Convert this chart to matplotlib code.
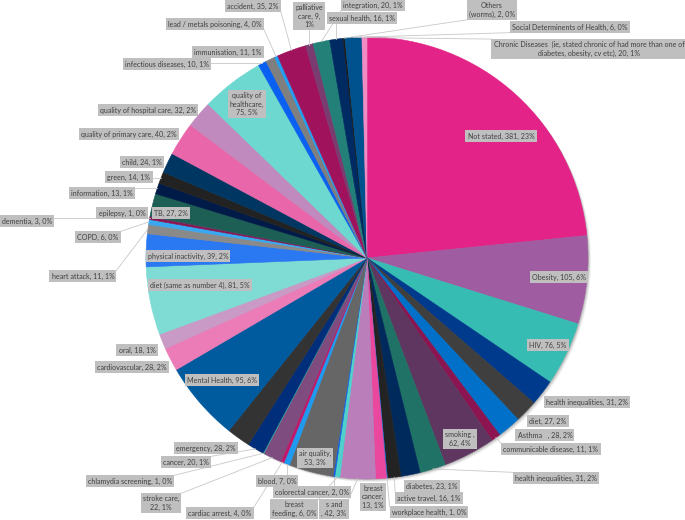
import matplotlib
matplotlib.use("Agg")
import matplotlib.pyplot as plt
from matplotlib.patches import Circle
import numpy as np

# slices, clockwise from 12 o'clock
names = [
    "Not stated", "Obesity", "HIV", "health inequalities", "diet", "Asthma   ",
    "communicable disease", "smoking ", "health inequalities", "diabetes",
    "active travel", "workplace health", "breast\ncancer", "s and\n", "breast\nfeeding",
    "colorectal cancer", "air quality", "blood", "cardiac arrest", "stroke care",
    "chlamydia screening", "cancer", "emergency", "Mental Health", "cardiovascular",
    "oral", "diet (same as number 4)", "physical inactivity", "heart attack", "COPD",
    "dementia", "epilepsy", "TB", "information", "green", "child",
    "quality of primary care", "quality of hospital care", "quality of\nhealthcare",
    "infectious diseases", "immunisation", "lead / metals poisoning", "accident",
    "palliative\ncare", "integration", "sexual health", "Others\n(worms)",
    "Chronic Diseases  (ie, stated chronic of had more than one of\ndiabetes, obesity, cv etc)",
    "Social Determinents of Health",
]
values = [381, 105, 76, 31, 27, 28, 11, 62, 31, 23, 16, 1, 13, 42, 6, 2, 53, 7, 4, 22,
          1, 20, 28, 95, 28, 18, 81, 39, 11, 6, 3, 1, 27, 13, 14, 24, 40, 32, 75,
          10, 11, 4, 35, 9, 20, 16, 2, 20, 6]
colors = [
    "#E32387", "#A05CA0", "#36BCB2", "#003A8C", "#3F3F3F", "#0070C8",
    "#8C1450", "#5F365F", "#1F7265", "#002A5C", "#232323", "#1F6FD0",
    "#E9489E", "#BA7EBA", "#4FD0CA", "#1560E0", "#666666", "#1E9BF0",
    "#C0186A", "#7E4C7E", "#33B0A8", "#002E7A", "#333333", "#005A9E",
    "#EB7CB8", "#C99AC6", "#7FDCD4", "#2A78F2", "#8A8A8A", "#3AA8F0",
    "#8A1450", "#6A3A6A", "#1D5E55", "#001B48", "#222222", "#003762",
    "#EA66AA", "#C08ABE", "#6DD8CF", "#0A60F0", "#7F7F7F", "#22A0F5",
    "#A0125C", "#7A3C70", "#228078", "#002B62", "#1A1A1A", "#00528E",
    "#F08CC4",
]

# label text layouts that break differently
templates = {
    7: "{n},\n{v}, {p}%", 12: "{n},\n{v}, {p}%", 16: "{n},\n{v}, {p}%",
    19: "{n},\n{v}, {p}%", 38: "{n},\n{v}, {p}%", 43: "{n}, {v},\n{p}%",
}

# label box centres in pixels (y from top)
label_pos = [
    (501, 136), (559, 277), (548, 345), (587, 402), (548, 421), (545, 435),
    (551, 449), (460, 439), (556, 478), (432, 486), (429, 498), (429, 512),
    (373, 497), (334, 509), (294, 509), (312, 492), (315, 458), (277, 481),
    (220, 513), (161, 503), (130, 481), (186, 462), (206, 448), (222, 380),
    (132, 367), (137, 350), (200, 285), (188, 256), (83, 276), (98, 237),
    (27, 221), (122, 213), (171, 213), (102, 193), (129, 177), (142, 162),
    (129, 134), (148, 110), (247, 104), (167, 64), (228, 52), (215, 24),
    (253, 6), (309, 16), (373, 5), (362, 18), (492, 10), (589, 49), (570, 27),
]

W, H = 685, 520
CX, CY, R = 367, 258, 221
total = sum(values)

fig = plt.figure(figsize=(W / 100, H / 100), dpi=100)
ax = fig.add_axes([0, 0, 1, 1])

# soft shadow like the spreadsheet one
for off, a in [(3, 0.06), (2, 0.10), (1, 0.14)]:
    ax.add_patch(Circle((CX + off, H - CY - off), R, color="black", alpha=a, lw=0, zorder=0))

wedges, _ = ax.pie(values, colors=colors, startangle=90, counterclock=False,
                   radius=R, center=(CX, H - CY))
for w in wedges:
    w.set_edgecolor(w.get_facecolor())
    w.set_linewidth(0.4)
    w.set_zorder(1)

ax.set_xlim(0, W)
ax.set_ylim(0, H)
ax.axis("off")

texts = []
for i, (name, v) in enumerate(zip(names, values)):
    pct = int(100 * v / total + 0.5)
    s = templates.get(i, "{n}, {v}, {p}%").format(n=name, v=v, p=pct)
    px, py = label_pos[i]
    t = ax.text(px, H - py, s, ha="center", va="center", multialignment="center",
                fontsize=5.1, color="#404040", family="Lato", linespacing=1.2,
                bbox=dict(boxstyle="square,pad=0.3", fc="#BFBFBF", ec="none"),
                zorder=6 if i == 14 else 5)
    texts.append(t)

fig.canvas.draw()
renderer = fig.canvas.get_renderer()
for w, t, (px, py) in zip(wedges, texts, label_pos):
    if np.hypot(px - CX, py - CY) < R:
        continue
    mid = np.radians((w.theta1 + w.theta2) / 2)
    ax_x, ax_y = CX + R * np.cos(mid), H - CY + R * np.sin(mid)
    bb = t.get_bbox_patch().get_window_extent(renderer)
    qx = min(max(ax_x, bb.x0), bb.x1)
    qy = min(max(ax_y, bb.y0), bb.y1)
    if np.hypot(qx - ax_x, qy - ax_y) > 8:
        ax.plot([ax_x, qx], [ax_y, qy], color="#C8C8C8", lw=0.6, zorder=4)

fig.savefig("out.png", dpi=100)
